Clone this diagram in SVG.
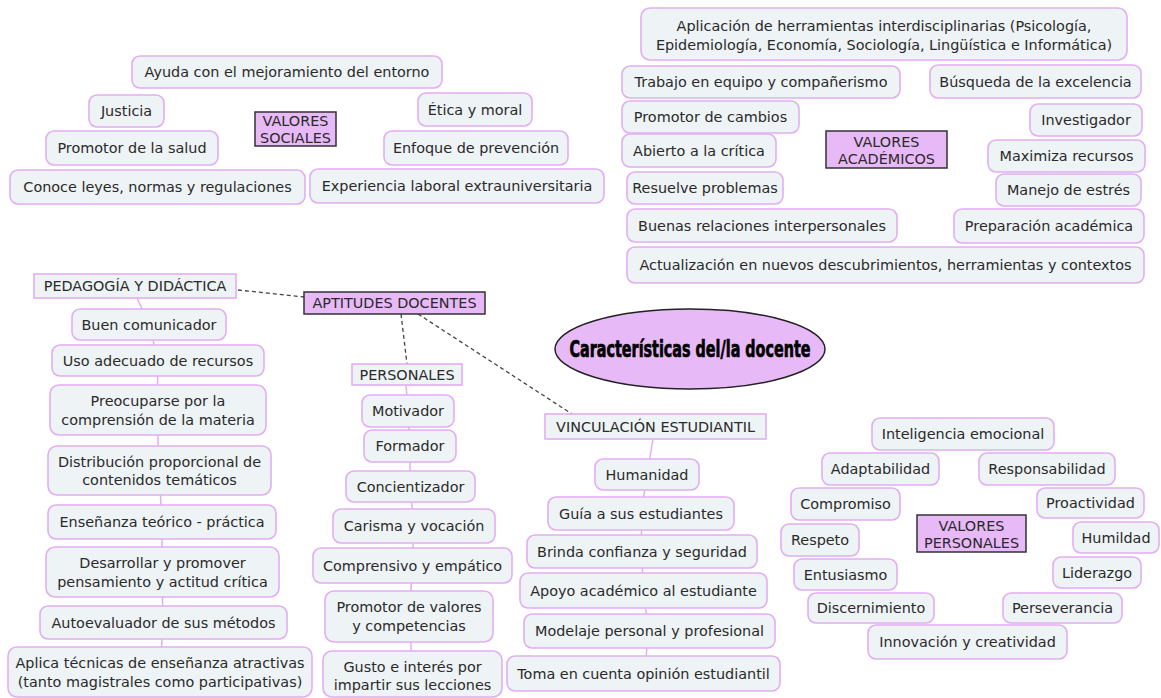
<svg xmlns="http://www.w3.org/2000/svg" width="1161" height="698" viewBox="0 0 1161 698">
<style>
.n{fill:#eef3f5;stroke:#e2aef2;stroke-width:1.6}
.s{fill:#eef3f5;stroke:#e2aef2;stroke-width:1.6}
.c{fill:#e8b9f7;stroke:#333;stroke-width:1.5}
.t{font-family:"DejaVu Sans",Verdana,sans-serif;font-size:14.4px;fill:#2a2a2a;text-anchor:middle}
.e{stroke:#e2aef2;stroke-width:1.5;fill:none}
.d{stroke:#444;stroke-width:1.3;stroke-dasharray:4 3;fill:none}
.title{font-family:"Liberation Sans Narrow","DejaVu Sans Condensed",sans-serif;font-weight:bold;font-size:23px;fill:#000;stroke:#000;stroke-width:0.7;text-anchor:middle}
</style>
<rect width="1161" height="698" fill="#fff"/>
<g id="connectors">
<path class="d" d="M238 290 L304 297"/>
<path class="d" d="M401 314 L407 364"/>
<path class="d" d="M418 314 L572 414"/>
<path class="e" d="M137 298 L149 324 L158 360 L157 410 L159 470 L162 522 L162 572 L163 623 L160 672"/>
<path class="e" d="M406 385 L408 411 L410 446 L410 487 L414 526 L412 565 L410 616 L412 674"/>
<path class="e" d="M653 439 L647 475 L641 514 L642 551 L643 591 L649 631 L644 674"/>
</g>
<g id="center"><ellipse cx="690" cy="349" rx="135" ry="40" fill="#e8b9f7" stroke="#222" stroke-width="1.5"/><text class="title" x="690" y="357" textLength="241" lengthAdjust="spacingAndGlyphs">Características del/la docente</text></g>
<g id="n1"><rect class="n" x="132" y="56" width="310" height="32" rx="8"/><text class="t" x="287" y="77">Ayuda con el mejoramiento del entorno</text></g>
<g id="n2"><rect class="n" x="89" y="95" width="75" height="32" rx="8"/><text class="t" x="126.5" y="116">Justicia</text></g>
<g id="n3"><rect class="c" x="255" y="112" width="81" height="34"/><text class="t" x="295.5" y="126">VALORES</text><text class="t" x="295.5" y="142.5">SOCIALES</text></g>
<g id="n4"><rect class="n" x="418" y="93" width="114" height="33" rx="8"/><text class="t" x="475" y="114.5">Ética y moral</text></g>
<g id="n5"><rect class="n" x="46" y="131" width="172" height="34" rx="8"/><text class="t" x="132" y="153">Promotor de la salud</text></g>
<g id="n6"><rect class="n" x="384" y="131" width="184" height="34" rx="8"/><text class="t" x="476" y="153">Enfoque de prevención</text></g>
<g id="n7"><rect class="n" x="10" y="170" width="295" height="34" rx="8"/><text class="t" x="157.5" y="192">Conoce leyes, normas y regulaciones</text></g>
<g id="n8"><rect class="n" x="310" y="169" width="294" height="34" rx="8"/><text class="t" x="457" y="191">Experiencia laboral extrauniversitaria</text></g>
<g id="n9"><rect class="n" x="641" y="8" width="486" height="52" rx="9"/><text class="t" x="884" y="31">Aplicación de herramientas interdisciplinarias (Psicología,</text><text class="t" x="884" y="50">Epidemiología, Economía, Sociología, Lingüística e Informática)</text></g>
<g id="n10"><rect class="n" x="622" y="66" width="278" height="32" rx="8"/><text class="t" x="761" y="87">Trabajo en equipo y compañerismo</text></g>
<g id="n11"><rect class="n" x="930" y="65" width="211" height="33" rx="8"/><text class="t" x="1035.5" y="86.5">Búsqueda de la excelencia</text></g>
<g id="n12"><rect class="n" x="622" y="101" width="177" height="32" rx="8"/><text class="t" x="710.5" y="122">Promotor de cambios</text></g>
<g id="n13"><rect class="n" x="1030" y="104" width="112" height="32" rx="8"/><text class="t" x="1086" y="125">Investigador</text></g>
<g id="n14"><rect class="c" x="826" y="131" width="121" height="37"/><text class="t" x="886.5" y="147">VALORES</text><text class="t" x="886.5" y="164">ACADÉMICOS</text></g>
<g id="n15"><rect class="n" x="622" y="134" width="154" height="33" rx="8"/><text class="t" x="699" y="155.5">Abierto a la crítica</text></g>
<g id="n16"><rect class="n" x="988" y="140" width="157" height="32" rx="8"/><text class="t" x="1066.5" y="161">Maximiza recursos</text></g>
<g id="n17"><rect class="n" x="627" y="172" width="156" height="32" rx="8"/><text class="t" x="705" y="193">Resuelve problemas</text></g>
<g id="n18"><rect class="n" x="996" y="174" width="145" height="32" rx="8"/><text class="t" x="1068.5" y="195">Manejo de estrés</text></g>
<g id="n19"><rect class="n" x="627" y="209" width="270" height="33" rx="8"/><text class="t" x="762" y="230.5">Buenas relaciones interpersonales</text></g>
<g id="n20"><rect class="n" x="954" y="209" width="190" height="34" rx="8"/><text class="t" x="1049" y="231">Preparación académica</text></g>
<g id="n21"><rect class="n" x="627" y="247" width="517" height="36" rx="8"/><text class="t" x="885.5" y="270">Actualización en nuevos descubrimientos, herramientas y contextos</text></g>
<g id="n22"><rect class="s" x="34" y="274" width="202" height="24"/><text class="t" x="135" y="291">PEDAGOGÍA Y DIDÁCTICA</text></g>
<g id="n23"><rect class="c" x="304" y="292" width="181" height="22"/><text class="t" x="394.5" y="308">APTITUDES DOCENTES</text></g>
<g id="n24"><rect class="n" x="72" y="309" width="154" height="31" rx="8"/><text class="t" x="149" y="329.5">Buen comunicador</text></g>
<g id="n25"><rect class="n" x="52" y="345" width="212" height="31" rx="8"/><text class="t" x="158" y="365.5">Uso adecuado de recursos</text></g>
<g id="n26"><rect class="n" x="50" y="385" width="216" height="50" rx="9"/><text class="t" x="158" y="406">Preocuparse por la</text><text class="t" x="158" y="424.5">comprensión de la materia</text></g>
<g id="n27"><rect class="n" x="48" y="446" width="223" height="49" rx="9"/><text class="t" x="159.5" y="466.5">Distribución proporcional de</text><text class="t" x="159.5" y="485">contenidos temáticos</text></g>
<g id="n28"><rect class="n" x="48" y="505" width="228" height="34" rx="8"/><text class="t" x="162" y="527">Enseñanza teórico - práctica</text></g>
<g id="n29"><rect class="n" x="46" y="547" width="233" height="50" rx="9"/><text class="t" x="162.5" y="568">Desarrollar y promover</text><text class="t" x="162.5" y="586.5">pensamiento y actitud crítica</text></g>
<g id="n30"><rect class="n" x="40" y="606" width="247" height="33" rx="8"/><text class="t" x="163.5" y="627.5">Autoevaluador de sus métodos</text></g>
<g id="n31"><rect class="n" x="8" y="647" width="304" height="50" rx="9"/><text class="t" x="160" y="668">Aplica técnicas de enseñanza atractivas</text><text class="t" x="160" y="687">(tanto magistrales como participativas)</text></g>
<g id="n32"><rect class="s" x="352" y="364" width="110" height="21"/><text class="t" x="407" y="380">PERSONALES</text></g>
<g id="n33"><rect class="n" x="362" y="395" width="92" height="32" rx="8"/><text class="t" x="408" y="416">Motivador</text></g>
<g id="n34"><rect class="n" x="364" y="430" width="92" height="32" rx="8"/><text class="t" x="410" y="451">Formador</text></g>
<g id="n35"><rect class="n" x="346" y="471" width="129" height="31" rx="8"/><text class="t" x="410.5" y="491.5">Concientizador</text></g>
<g id="n36"><rect class="n" x="333" y="509" width="162" height="34" rx="8"/><text class="t" x="414" y="531">Carisma y vocación</text></g>
<g id="n37"><rect class="n" x="313" y="548" width="199" height="35" rx="8"/><text class="t" x="412.5" y="570.5">Comprensivo y empático</text></g>
<g id="n38"><rect class="n" x="325" y="591" width="168" height="51" rx="9"/><text class="t" x="409" y="612">Promotor de valores</text><text class="t" x="409" y="630.5">y competencias</text></g>
<g id="n39"><rect class="n" x="323" y="651" width="179" height="46" rx="9"/><text class="t" x="412.5" y="672">Gusto e interés por</text><text class="t" x="412.5" y="690">impartir sus lecciones</text></g>
<g id="n40"><rect class="s" x="545" y="414" width="221" height="25"/><text class="t" x="655.5" y="432">VINCULACIÓN ESTUDIANTIL</text></g>
<g id="n41"><rect class="n" x="595" y="459" width="104" height="31" rx="8"/><text class="t" x="647" y="479.5">Humanidad</text></g>
<g id="n42"><rect class="n" x="548" y="497" width="186" height="33" rx="8"/><text class="t" x="641" y="518.5">Guía a sus estudiantes</text></g>
<g id="n43"><rect class="n" x="527" y="535" width="230" height="33" rx="8"/><text class="t" x="642" y="556.5">Brinda confianza y seguridad</text></g>
<g id="n44"><rect class="n" x="520" y="573" width="247" height="35" rx="8"/><text class="t" x="643.5" y="595.5">Apoyo académico al estudiante</text></g>
<g id="n45"><rect class="n" x="524" y="614" width="251" height="34" rx="8"/><text class="t" x="649.5" y="636">Modelaje personal y profesional</text></g>
<g id="n46"><rect class="n" x="507" y="656" width="273" height="35" rx="8"/><text class="t" x="643.5" y="678.5">Toma en cuenta opinión estudiantil</text></g>
<g id="n47"><rect class="n" x="872" y="418" width="182" height="32" rx="8"/><text class="t" x="963" y="439">Inteligencia emocional</text></g>
<g id="n48"><rect class="n" x="822" y="453" width="117" height="32" rx="8"/><text class="t" x="880.5" y="474">Adaptabilidad</text></g>
<g id="n49"><rect class="n" x="979" y="453" width="136" height="32" rx="8"/><text class="t" x="1047" y="474">Responsabilidad</text></g>
<g id="n50"><rect class="n" x="791" y="488" width="109" height="32" rx="8"/><text class="t" x="845.5" y="509">Compromiso</text></g>
<g id="n51"><rect class="n" x="1037" y="488" width="107" height="30" rx="8"/><text class="t" x="1090.5" y="508">Proactividad</text></g>
<g id="n52"><rect class="c" x="917" y="515" width="109" height="37"/><text class="t" x="971.5" y="530.5">VALORES</text><text class="t" x="971.5" y="547.5">PERSONALES</text></g>
<g id="n53"><rect class="n" x="781" y="524" width="78" height="32" rx="8"/><text class="t" x="820" y="545">Respeto</text></g>
<g id="n54"><rect class="n" x="1073" y="522" width="86" height="31" rx="8"/><text class="t" x="1116" y="542.5">Humildad</text></g>
<g id="n55"><rect class="n" x="794" y="559" width="103" height="31" rx="8"/><text class="t" x="845.5" y="579.5">Entusiasmo</text></g>
<g id="n56"><rect class="n" x="1053" y="557" width="88" height="31" rx="8"/><text class="t" x="1097" y="577.5">Liderazgo</text></g>
<g id="n57"><rect class="n" x="808" y="593" width="126" height="30" rx="8"/><text class="t" x="871" y="613">Discernimiento</text></g>
<g id="n58"><rect class="n" x="1003" y="593" width="119" height="30" rx="8"/><text class="t" x="1062.5" y="613">Perseverancia</text></g>
<g id="n59"><rect class="n" x="868" y="625" width="199" height="34" rx="8"/><text class="t" x="967.5" y="647">Innovación y creatividad</text></g>
</svg>
